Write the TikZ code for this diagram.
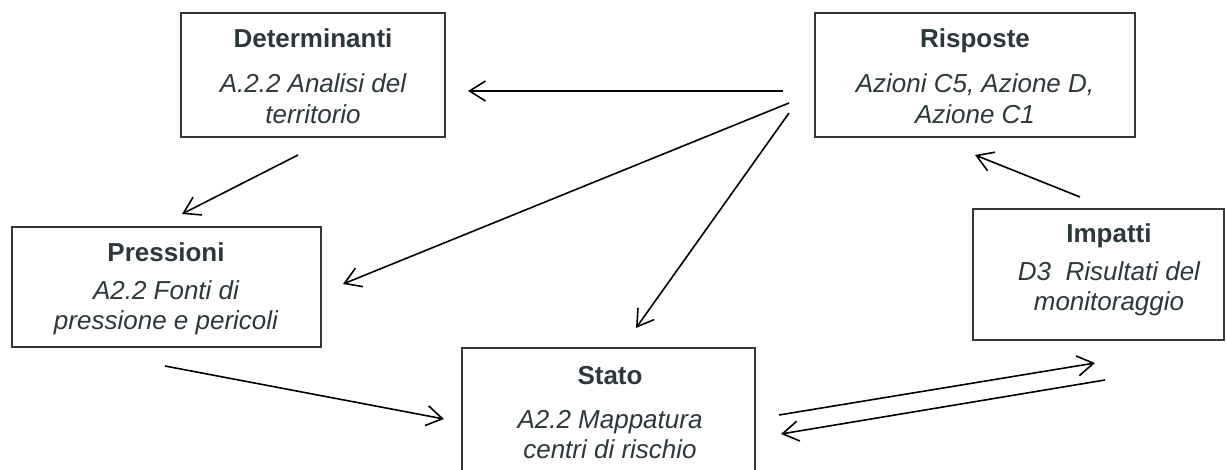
\documentclass[tikz,border=0pt]{standalone}
\usepackage{fontspec}
\setmainfont{Liberation Sans}
\usetikzlibrary{arrows.meta}
\definecolor{txt}{RGB}{45,56,60}
\definecolor{bord}{RGB}{55,55,55}
\tikzset{
  boxnode/.style={draw=bord, line width=1.2pt, rectangle, inner sep=0pt},
  title/.style={anchor=base, inner sep=0pt, text=txt, font=\fontsize{26}{30}\selectfont\bfseries},
  body/.style={anchor=base, inner sep=0pt, text=txt, font=\fontsize{26}{30}\selectfont\itshape},
  flow/.style={line width=1.6pt, black, -{Straight Barb[length=16pt,width=20pt,line width=1.6pt]}}
}
\begin{document}
\begin{tikzpicture}[x=1pt,y=-1pt]
\useasboundingbox (0,0) rectangle (1226,469);
\fill[white] (0,0) rectangle (1226,469);
% boxes
\node[boxnode, minimum width=264pt, minimum height=124pt] (det) at (313,75) {};
\node[boxnode, minimum width=320pt, minimum height=124pt] (ris) at (975,75) {};
\node[boxnode, minimum width=309pt, minimum height=120pt] (pre) at (166.5,287) {};
\node[boxnode, minimum width=251pt, minimum height=131pt] (imp) at (1098.5,274.5) {};
\node[boxnode, minimum width=293pt, minimum height=142pt] (sta) at (608.5,419) {};
% texts
\node[title] (detT) at (313,47) {Determinanti};
\node[body] (detA) at (313,92) {A.2.2 Analisi del};
\node[body] (detB) at (313,123) {territorio};
\node[title] (risT) at (975,47) {Risposte};
\node[body] (risA) at (975,92) {Azioni C5, Azione D,};
\node[body] (risB) at (975,123) {Azione C1};
\node[title] (preT) at (166,261) {Pressioni};
\node[body] (preA) at (166,299) {A2.2 Fonti di};
\node[body] (preB) at (166,329) {pressione e pericoli};
\node[title] (impT) at (1109,242) {Impatti};
\node[body] (impA) at (1109,280) {D3\ \ Risultati del};
\node[body] (impB) at (1109,310) {monitoraggio};
\node[title] (staT) at (610,384) {Stato};
\node[body] (staA) at (610,428) {A2.2 Mappatura};
\node[body] (staB) at (610,458) {centri di rischio};
% connector end points
\coordinate (a1s) at (783,91);   \coordinate (a1e) at (468,91);
\coordinate (a2s) at (298,155);  \coordinate (a2e) at (182,214);
\coordinate (a3s) at (789,103);  \coordinate (a3e) at (343,284);
\coordinate (a4s) at (789,113);  \coordinate (a4e) at (636,328);
\coordinate (a5s) at (165,366);  \coordinate (a5e) at (444,419);
\coordinate (a6s) at (779,415);  \coordinate (a6e) at (1095,363);
\coordinate (a7s) at (1105,380); \coordinate (a7e) at (781,434);
\coordinate (a8s) at (1080,197); \coordinate (a8e) at (975,155);
% connectors
\draw[flow] (a1s) -- (a1e);
\draw[flow] (a2s) -- (a2e);
\draw[flow] (a3s) -- (a3e);
\draw[flow] (a4s) -- (a4e);
\draw[flow] (a5s) -- (a5e);
\draw[flow] (a6s) -- (a6e);
\draw[flow] (a7s) -- (a7e);
\draw[flow] (a8s) -- (a8e);
\end{tikzpicture}
\end{document}
